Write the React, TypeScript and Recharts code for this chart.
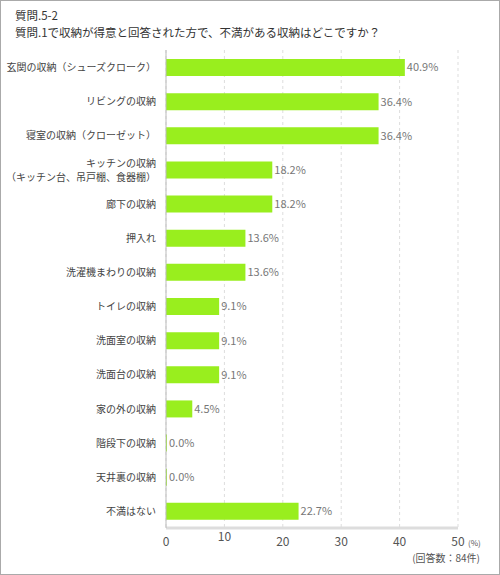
import React from "react";
import { BarChart, Bar, XAxis, YAxis, CartesianGrid, LabelList } from "recharts";

const categories = [
  "玄関の収納（シューズクローク）",
  "リビングの収納",
  "寝室の収納（クローゼット）",
  "キッチンの収納\n（キッチン台、吊戸棚、食器棚）",
  "廊下の収納",
  "押入れ",
  "洗濯機まわりの収納",
  "トイレの収納",
  "洗面室の収納",
  "洗面台の収納",
  "家の外の収納",
  "階段下の収納",
  "天井裏の収納",
  "不満はない",
];
const values = [40.9, 36.4, 36.4, 18.2, 18.2, 13.6, 13.6, 9.1, 9.1, 9.1, 4.5, 0.0, 0.0, 22.7];
const xTicks = [0, 10, 20, 30, 40, 50];

const data = categories.map((name, i) => ({ name, value: values[i] }));

const FONT = "'Noto Sans CJK JP', 'Noto Sans', sans-serif";

const YTick = (props: any) => {
  const { x, y, payload } = props;
  const lines = String(payload.value).split("\n");
  const lh = 14;
  const start = y - ((lines.length - 1) * lh) / 2;
  return (
    <g>
      {lines.map((l, i) => (
        <text
          key={i}
          x={x - 2}
          y={start + i * lh}
          dy={4}
          textAnchor="end"
          fontSize={10}
          fill="#444"
          fontFamily={FONT}
        >
          {l}
        </text>
      ))}
    </g>
  );
};

const XTick = (props: any) => {
  const { x, y, payload } = props;
  const off = payload.value === 10 ? -5 : 0;
  return (
    <g>
      <text x={x} y={y + 10 + off} textAnchor="middle" fontSize={12} fill="#555" fontFamily={FONT}>
        {payload.value}
      </text>
      {payload.value === 50 && (
        <text x={x + 10} y={y + 10} textAnchor="start" fontSize={8} fill="#555" fontFamily={FONT}>
          (%)
        </text>
      )}
    </g>
  );
};

export default function App() {
  return (
    <div
      style={{
        position: "absolute",
        left: 0,
        top: 0,
        width: 500,
        height: 575,
        boxSizing: "border-box",
        border: "1px solid #aaa",
        background: "#fff",
        fontFamily: FONT,
      }}
    >
      <div
        style={{
          position: "absolute",
          left: 14,
          top: 6,
          fontSize: 11.5,
          color: "#333",
          lineHeight: "17px",
          whiteSpace: "nowrap",
        }}
      >
        質問.5-2
        <br />
        質問.1で収納が得意と回答された方で、不満がある収納はどこですか？
      </div>
      <div
        style={{ position: "absolute", right: 19, top: 549, fontSize: 10, color: "#555" }}
      >
        (回答数：84件)
      </div>
      <div style={{ position: "absolute", left: -1, top: -1 }}>
        <BarChart
          width={500}
          height={575}
          data={data}
          layout="vertical"
          margin={{ top: 50, right: 42, bottom: 17, left: 0 }}
          barCategoryGap={0}
        >
          <CartesianGrid
            horizontal={false}
            vertical
            stroke="#ddd"
            strokeDasharray="3 3"
          />
          <XAxis
            type="number"
            domain={[0, 50]}
            ticks={xTicks}
            height={30}
            axisLine={{ stroke: "#ddd", strokeWidth: 3 }}
            tickLine={false}
            tick={<XTick />}
            interval={0}
          />
          <YAxis
            type="category"
            dataKey="name"
            width={166}
            axisLine={{ stroke: "#bbb", strokeWidth: 1 }}
            tickLine={false}
            tick={<YTick />}
            interval={0}
          />
          <Bar
            dataKey="value"
            fill="#99ee1e"
            barSize={17}
            minPointSize={1}
            isAnimationActive={false}
          >
            <LabelList
              dataKey="value"
              position="right"
              offset={2}
              formatter={(v: any) => `${Number(v).toFixed(1)}%`}
              style={{ fontSize: 11, fill: "#777", fontFamily: FONT }}
            />
          </Bar>
        </BarChart>
      </div>
    </div>
  );
}
